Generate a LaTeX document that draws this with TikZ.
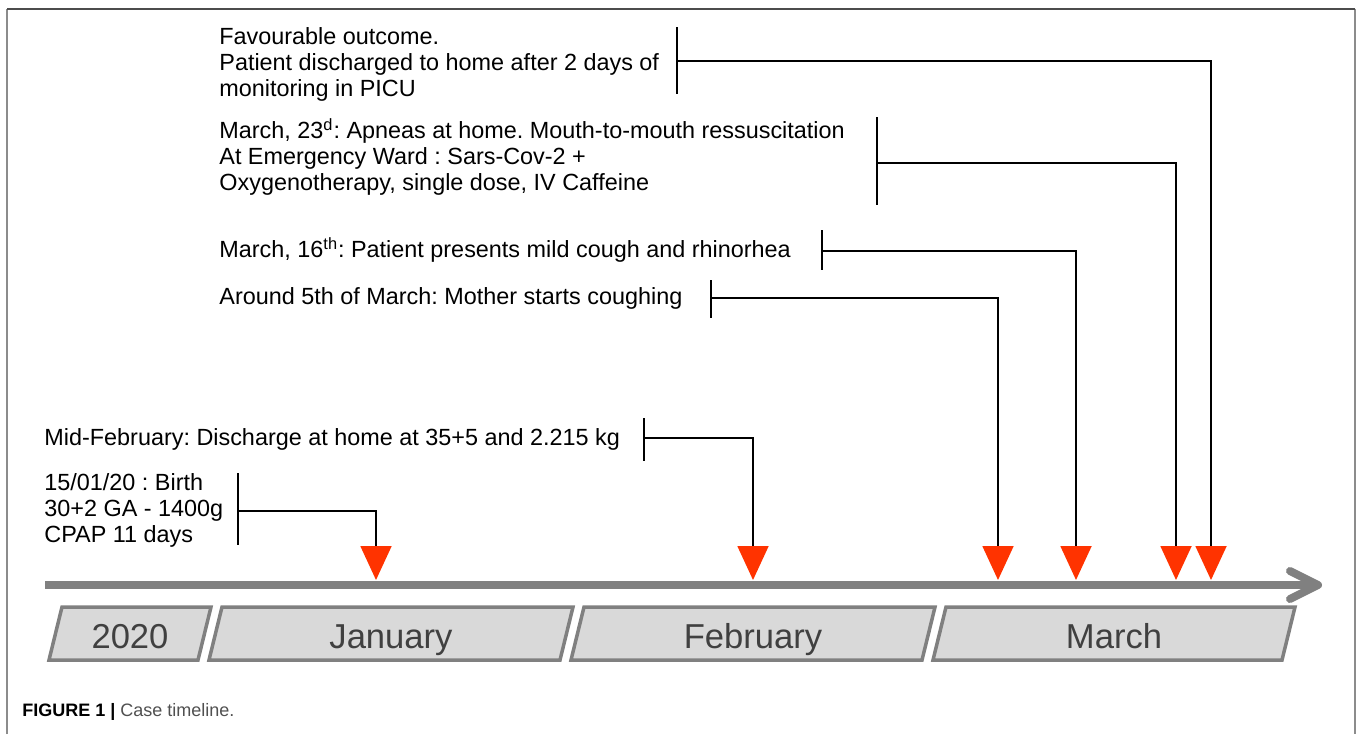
\documentclass[tikz,border=0pt]{standalone}
\usepackage{fontspec}
\setmainfont{Liberation Sans}
\usetikzlibrary{arrows.meta}
\frenchspacing

\definecolor{tipred}{RGB}{255,51,0}
\definecolor{axisgray}{RGB}{128,128,128}
\definecolor{boxfill}{RGB}{217,217,217}
\definecolor{labelgray}{RGB}{64,64,64}
\definecolor{framegray}{RGB}{140,140,140}
\definecolor{capgray}{RGB}{80,80,80}

\begin{document}
\begin{tikzpicture}[
    x=0.5pt, y=-0.5pt,
    event/.style={anchor=west, align=left, inner sep=0pt, font=\fontsize{11.7}{13}\selectfont},
    bar/.style={line width=0.9pt},
    link/.style={line width=0.9pt, -{Triangle[length=17pt, width=15.5pt, color=tipred, fill=tipred]}},
    month/.style={draw=axisgray, fill=boxfill, line width=1.75pt},
    monthlabel/.style={text=labelgray, anchor=base, inner sep=0pt, font=\fontsize{17.3}{20}\selectfont},
    axis/.style={draw=axisgray, line width=4pt, -{Straight Barb[length=14pt, width=14pt, round]}}
  ]
  \useasboundingbox (0,0) rectangle (1358,734);

  % Figure frame
  \draw[framegray, line width=1pt] (7,734) -- (7,8.5);
  \draw[framegray, line width=1pt] (1355,8.5) -- (1355,734);
  \draw[black!70, line width=1pt] (7,8.5) -- (1355,8.5);

  % Month boxes
  \draw[month] (62,607) -- (211,607) -- (198,660) -- (49,660) -- cycle;
  \node[monthlabel] (year) at (130,648) {2020};
  \draw[month] (222,607) -- (573,607) -- (560,660) -- (209,660) -- cycle;
  \node[monthlabel] (jan) at (391,648) {January};
  \draw[month] (584,607) -- (935,607) -- (922,660) -- (571,660) -- cycle;
  \node[monthlabel] (feb) at (753,648) {February};
  \draw[month] (946,607) -- (1295,607) -- (1282,660) -- (933,660) -- cycle;
  \node[monthlabel] (mar) at (1114,648) {March};

  % Time axis
  \coordinate (start) at (45,585);
  \coordinate (end) at (1322,585);
  \draw[axis] (start) -- (end);

  % Points on the axis
  \coordinate (t birth) at (376,580);
  \coordinate (t home) at (753,580);
  \coordinate (t mother) at (998,580);
  \coordinate (t cough) at (1076,580);
  \coordinate (t apnea) at (1176,580);
  \coordinate (t favour) at (1211,580);

  % Events
  \node[event] (favour) at (219,64) {Favourable outcome.\\
    Patient discharged to home after 2 days of\\
    monitoring in PICU};
  \node[event] (apnea) at (219,157) {March, 23\textsuperscript{d}: Apneas at home. Mouth-to-mouth ressuscitation\\
    At Emergency Ward : Sars-Cov-2 +\\
    Oxygenotherapy, single dose, IV Caffeine};
  \node[event] (cough) at (219,250) {March, 16\textsuperscript{th}: Patient presents mild cough and rhinorhea};
  \node[event] (mother) at (219,298) {Around 5th of March: Mother starts coughing};
  \node[event] (home) at (44,439) {Mid-February: Discharge at home at 35+5 and 2.215 kg};
  \node[event] (birth) at (44,510) {15/01/20 : Birth\\
    30+2 GA - 1400g\\
    CPAP 11 days};

  % Brackets next to the events
  \coordinate (favour bar) at (677,61);
  \coordinate (apnea bar) at (877,163);
  \coordinate (cough bar) at (822,251);
  \coordinate (mother bar) at (711,298);
  \coordinate (home bar) at (644,438);
  \coordinate (birth bar) at (238,511);

  \draw[bar] (favour bar) ++(0,-34) -- ++(0,67);
  \draw[bar] (apnea bar) ++(0,-46) -- ++(0,88);
  \draw[bar] (cough bar) ++(0,-21) -- ++(0,40);
  \draw[bar] (mother bar) ++(0,-18) -- ++(0,38);
  \draw[bar] (home bar) ++(0,-20) -- ++(0,43);
  \draw[bar] (birth bar) ++(0,-38) -- ++(0,72);

  % Links down to the axis
  \draw[link] (favour bar) -| (t favour);
  \draw[link] (apnea bar) -| (t apnea);
  \draw[link] (cough bar) -| (t cough);
  \draw[link] (mother bar) -| (t mother);
  \draw[link] (home bar) -| (t home);
  \draw[link] (birth bar) -| (t birth);

  % Caption
  \node[anchor=west, inner sep=0pt, font=\fontsize{9}{10}\selectfont] (caption) at (22,712)
    {\textbf{FIGURE 1 |} \textcolor{capgray}{Case timeline.}};

\end{tikzpicture}
\end{document}
